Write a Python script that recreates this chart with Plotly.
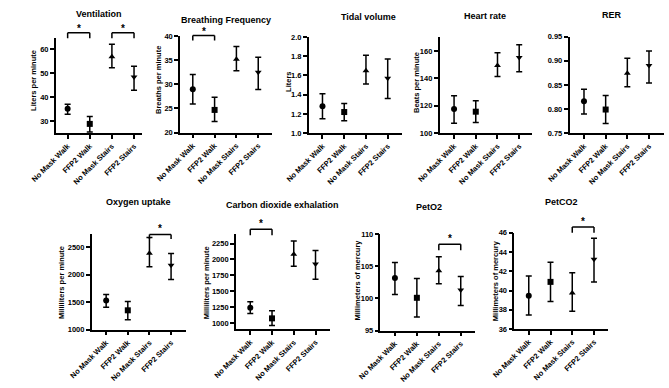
import plotly.graph_objects as go

W, H = 669, 388
FONT = "Liberation Sans, Arial, sans-serif"

# ---------------- data ----------------
categories = ["No Mask Walk", "FFP2 Walk", "No Mask Stairs", "FFP2 Stairs"]
symbols = ["circle", "square", "triangle-up", "triangle-down"]

vent_mean = [35.2, 28.9, 57.0, 48.5]
vent_hi = [37.1, 32.0, 62.2, 53.0]
vent_lo = [32.9, 25.5, 52.4, 43.0]

bf_mean = [29.0, 24.7, 35.2, 32.5]
bf_hi = [32.0, 27.3, 37.8, 35.6]
bf_lo = [25.9, 22.3, 32.8, 28.9]

tv_mean = [1.28, 1.22, 1.65, 1.57]
tv_hi = [1.41, 1.31, 1.81, 1.77]
tv_lo = [1.15, 1.13, 1.51, 1.36]

hr_mean = [117.6, 115.7, 149.3, 155.2]
hr_hi = [127.3, 123.7, 158.7, 164.5]
hr_lo = [107.2, 107.9, 141.3, 144.8]

rer_mean = [0.816, 0.799, 0.874, 0.890]
rer_hi = [0.841, 0.828, 0.905, 0.920]
rer_lo = [0.790, 0.770, 0.846, 0.854]

vo2_mean = [1530, 1351, 2393, 2173]
vo2_hi = [1637, 1512, 2680, 2387]
vo2_lo = [1405, 1179, 2143, 1911]

vco2_mean = [1240, 1072, 2080, 1930]
vco2_hi = [1332, 1190, 2292, 2139]
vco2_lo = [1148, 960, 1894, 1689]

peto2_mean = [103.2, 100.1, 104.3, 101.3]
peto2_hi = [105.6, 103.1, 106.5, 103.4]
peto2_lo = [100.6, 97.1, 102.3, 98.9]

petco2_mean = [39.45, 40.9, 39.75, 43.25]
petco2_hi = [41.5, 42.95, 41.85, 45.45]
petco2_lo = [37.45, 38.85, 37.85, 40.9]

titles = ["Ventilation", "Breathing Frequency", "Tidal volume", "Heart rate", "RER",
          "Oxygen uptake", "Carbon dioxide exhalation", "PetO2", "PetCO2"]
ytitles = ["Liters per minute", "Breaths per minute", "Liters", "Beats per minute", "",
           "Milliliters per minute", "Milliliters per minute", "Millimeters of mercury",
           "Millimeters of mercury"]
means = [vent_mean, bf_mean, tv_mean, hr_mean, rer_mean, vo2_mean, vco2_mean, peto2_mean, petco2_mean]
highs = [vent_hi, bf_hi, tv_hi, hr_hi, rer_hi, vo2_hi, vco2_hi, peto2_hi, petco2_hi]
lows = [vent_lo, bf_lo, tv_lo, hr_lo, rer_lo, vo2_lo, vco2_lo, peto2_lo, petco2_lo]

yranges = [[25, 65], [20, 40], [1.0, 2.0], [100, 170], [0.75, 0.95],
           [1000, 2750], [900, 2400], [95, 110], [36, 46]]
ytickvals = [[30, 40, 50, 60], [20, 25, 30, 35, 40], [1.0, 1.2, 1.4, 1.6, 1.8, 2.0],
             [100, 120, 140, 160], [0.75, 0.80, 0.85, 0.90, 0.95],
             [1000, 1500, 2000, 2500], [1000, 1250, 1500, 1750, 2000, 2250],
             [95, 100, 105, 110], [36, 38, 40, 42, 44, 46]]
ytickformats = ["", "", ".1f", "", ".2f", "", "", "", ""]

# significance brackets: panel, category a, category b
sig_pairs = [(0, 0, 1), (0, 2, 3), (1, 0, 1), (5, 2, 3), (6, 0, 1), (7, 2, 3), (8, 2, 3)]

# ---------------- layout geometry (pixels) ----------------
# x0, x1, ytop, ybottom, xrange
geom = [
    (32, 122, 34.3, 132.3, [-0.535, 3.38]),
    (161, 257, 32.7, 131.7, [-0.587, 3.65]),
    (294.7, 391.7, 33.7, 132.3, [-0.634, 3.66]),
    (430.7, 526.7, 34.0, 132.3, [-0.666, 3.59]),
    (565.7, 663.3, 33.3, 132.3, [-0.666, 3.67]),
    (69.3, 167.7, 235.0, 333.3, [-0.668, 3.71]),
    (219, 316.7, 235.5, 333.0, [-0.665, 3.66]),
    (369.3, 467.7, 235.7, 334.3, [-0.658, 3.66]),
    (508.3, 606, 234.3, 332.7, [-0.665, 3.66]),
]
title_pos = [(77, 10), (209, 16), (357, 13), (478, 12), (610, 11),
             (118, 203), (267, 206), (420, 208), (557, 203)]
ytitle_pos = [(8, 78), (138, 78), (273, 80), (406, 80), (0, 0),
              (38, 285), (188, 285), (345, 283), (489, 283)]
# bracket line y, tip y, star y (pixels)
bracket_pos = [(29.5, 35, 25), (29.5, 35, 25), (32.3, 37.3, 28), (236, 240.5, 230),
               (230.7, 236.7, 225), (246, 252, 240), (228.3, 234.3, 223)]


def px(x):
    return x / W


def py(y):
    return 1 - y / H


fig = go.Figure()
layout = dict(
    width=W, height=H, margin=dict(l=0, r=0, t=0, b=0),
    paper_bgcolor="white", plot_bgcolor="white", showlegend=False,
    font=dict(family=FONT, color="black"),
)
annotations = []
shapes = []

for i in range(9):
    n = i + 1
    xs = "" if n == 1 else str(n)
    m, hi, lo = means[i], highs[i], lows[i]
    fig.add_trace(go.Scatter(
        x=categories, y=m, mode="markers",
        xaxis="x" + xs, yaxis="y" + xs,
        marker=dict(symbol=symbols, size=6, color="black"),
        error_y=dict(type="data", symmetric=False,
                     array=[h - v for h, v in zip(hi, m)],
                     arrayminus=[v - l for v, l in zip(m, lo)],
                     color="black", thickness=1.5, width=3),
        cliponaxis=False,
    ))
    x0, x1, yt, yb, xr = geom[i]
    layout["xaxis" + xs] = dict(
        domain=[px(x0), px(x1)], anchor="y" + xs, range=xr,
        type="category", categoryorder="array", categoryarray=categories,
        showline=True, linecolor="black", linewidth=1.5,
        ticks="outside", ticklen=4, tickwidth=1.5, tickcolor="black",
        tickangle=-45, showgrid=False, zeroline=False,
        tickfont=dict(size=7.5, family=FONT, weight="bold", color="black"),
        fixedrange=True,
    )
    layout["yaxis" + xs] = dict(
        domain=[py(yb), py(yt)], anchor="x" + xs, range=yranges[i],
        tickvals=ytickvals[i], tickformat=ytickformats[i],
        showline=True, linecolor="black", linewidth=1.5,
        ticks="outside", ticklen=4, tickwidth=1.5, tickcolor="black",
        showgrid=False, zeroline=False,
        tickfont=dict(size=7.5, family=FONT, weight="bold", color="black"),
        fixedrange=True,
    )
    tx, ty = title_pos[i]
    annotations.append(dict(
        text=titles[i], x=px(tx), y=py(ty), xref="paper", yref="paper",
        xanchor="center", yanchor="middle", showarrow=False,
        font=dict(size=9, family=FONT, weight="bold", color="black"),
    ))
    if ytitles[i]:
        ax_, ay_ = ytitle_pos[i]
        annotations.append(dict(
            text=ytitles[i], x=px(ax_), y=py(ay_), xref="paper", yref="paper",
            xanchor="center", yanchor="middle", showarrow=False, textangle=-90,
            font=dict(size=7.5, family=FONT, weight="bold", color="black"),
        ))

for (p, a, b), (ly, ty_, sy) in zip(sig_pairs, bracket_pos):
    xs = "" if p == 0 else str(p + 1)
    xref = "x" + xs
    pts = [(categories[a], ty_), (categories[a], ly), (categories[b], ly), (categories[b], ty_)]
    for (xa, ya), (xb, yb2) in zip(pts[:-1], pts[1:]):
        shapes.append(dict(type="line", xref=xref, yref="paper",
                           x0=xa, y0=py(ya), x1=xb, y1=py(yb2),
                           line=dict(color="black", width=1.5)))
    annotations.append(dict(
        text="*", x=(a + b) / 2, y=py(sy), xref=xref, yref="paper",
        xanchor="center", yanchor="middle", showarrow=False,
        font=dict(size=10, family=FONT, weight="bold", color="black"),
    ))

layout["annotations"] = annotations
layout["shapes"] = shapes
fig.update_layout(**layout)
fig.write_html("out.html")
